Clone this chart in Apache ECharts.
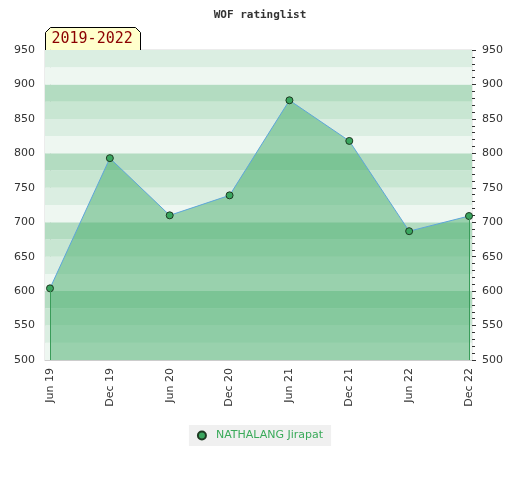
<!DOCTYPE html>
<html><head><meta charset="utf-8">
<script src="https://cdn.jsdelivr.net/npm/echarts@6/dist/echarts.min.js"></script>
<style>html,body{margin:0;padding:0;background:#fff}#c{width:520px;height:480px}</style>
</head><body><div id="c"></div>
<script>
var categories = ['Jun 19','Dec 19','Jun 20','Dec 20','Jun 21','Dec 21','Jun 22','Dec 22'];
var ratings = [604, 793, 710, 739, 877, 818, 687, 709];
var yTicks = [500, 550, 600, 650, 700, 750, 800, 850, 900, 950];
var playerName = 'NATHALANG Jirapat';
var periodLabel = '2019-2022';
var chartTitle = 'WOF ratinglist';

var yMin = yTicks[0], yMax = yTicks[yTicks.length - 1];
var bandColors = ['#eef7f1', '#dbeee2', '#c8e6d2', '#b3dcc1']; // from band bottom within each hundred
var bands = [];
for (var v = yMin; v < yMax; v += 25) {
  var idx = Math.round((v % 100) / 25);
  bands.push([{ yAxis: v, itemStyle: { color: bandColors[idx], opacity: 1 } }, { yAxis: v + 25 }]);
}
var idxs = categories.map(function (c, i) { return i; });
var data = ratings.map(function (r, i) { return [i, r]; });
var last = ratings.length - 1;

var chart = echarts.init(document.getElementById('c'));
chart.setOption({
  animation: false,
  title: {
    text: chartTitle, left: 'center', top: 5,
    textStyle: { fontFamily: 'DejaVu Sans Mono', fontSize: 11, fontWeight: 'bold', color: '#333' }
  },
  grid: { left: 45, right: 48, top: 50, bottom: 120, show: true, borderColor: '#d8d8d8', borderWidth: 1, backgroundColor: '#fff' },
  xAxis: {
    type: 'value', min: -0.0835, max: last + 0.05,
    splitLine: { show: false },
    axisLine: { show: true, lineStyle: { color: '#cccccc' } },
    axisTick: { show: false },
    axisLabel: {
      customValues: idxs, rotate: 90, margin: 8,
      fontFamily: 'DejaVu Sans', fontSize: 11, color: '#333',
      formatter: function (v) { return categories[Math.round(v)] || ''; }
    }
  },
  yAxis: [{
    type: 'value', min: yMin, max: yMax, interval: 50, position: 'left',
    splitLine: { show: false },
    axisLine: { show: true, lineStyle: { color: '#cccccc' } },
    axisTick: { show: false },
    axisLabel: { margin: 10, fontFamily: 'DejaVu Sans', fontSize: 11, color: '#333' }
  }, {
    type: 'value', min: yMin, max: yMax, interval: 50, position: 'right',
    splitLine: { show: false },
    axisLine: { show: false },
    axisTick: { show: true, length: 4, lineStyle: { color: '#333' } },
    minorTick: { show: true, splitNumber: 5, length: 3, lineStyle: { color: '#333' } },
    axisLabel: { margin: 10, fontFamily: 'DejaVu Sans', fontSize: 11, color: '#333' }
  }],
  legend: {
    bottom: 34, left: 'center',
    backgroundColor: '#f0f0f0', padding: [5, 8, 5, 8],
    itemWidth: 8, itemHeight: 8, itemGap: 6,
    textStyle: { fontFamily: 'DejaVu Sans', fontSize: 11, color: '#3aaa5a', padding: [0, 0, 0, 5] },
    data: [{ name: playerName, icon: 'circle' }]
  },
  series: [{
    type: 'line', name: 'bands', data: [], z: 1, silent: true,
    markArea: { silent: true, data: bands }
  }, {
    type: 'line', name: playerName, data: data, z: 3,
    symbol: 'circle', symbolSize: 7,
    lineStyle: { color: '#5ea6da', width: 1 },
    itemStyle: { color: '#3aa65f', borderColor: '#1e3a22', borderWidth: 1 },
    areaStyle: { color: 'rgb(67,172,106)', opacity: 0.5, origin: 'start' },
    markLine: {
      silent: true, symbol: ['none', 'none'], label: { show: false },
      lineStyle: { color: '#3a9c5a', width: 1, type: 'solid' },
      data: [
        [{ coord: [0, ratings[0]] }, { coord: [0, yMin] }],
        [{ coord: [last, ratings[last]] }, { coord: [last, yMin] }]
      ]
    }
  }],
  graphic: [{
    type: 'group', left: 45, top: 27,
    children: [{
      type: 'polygon',
      shape: { points: [[0, 23], [0, 5], [5, 0], [90, 0], [95, 5], [95, 23]] },
      style: { fill: '#ffffcc', stroke: '#000', lineWidth: 1 }
    }, {
      type: 'text', x: 6, y: 4,
      style: { text: periodLabel, fontFamily: 'DejaVu Sans Mono', fontSize: 15, fill: '#8b0000' }
    }]
  }]
});
</script></body></html>
